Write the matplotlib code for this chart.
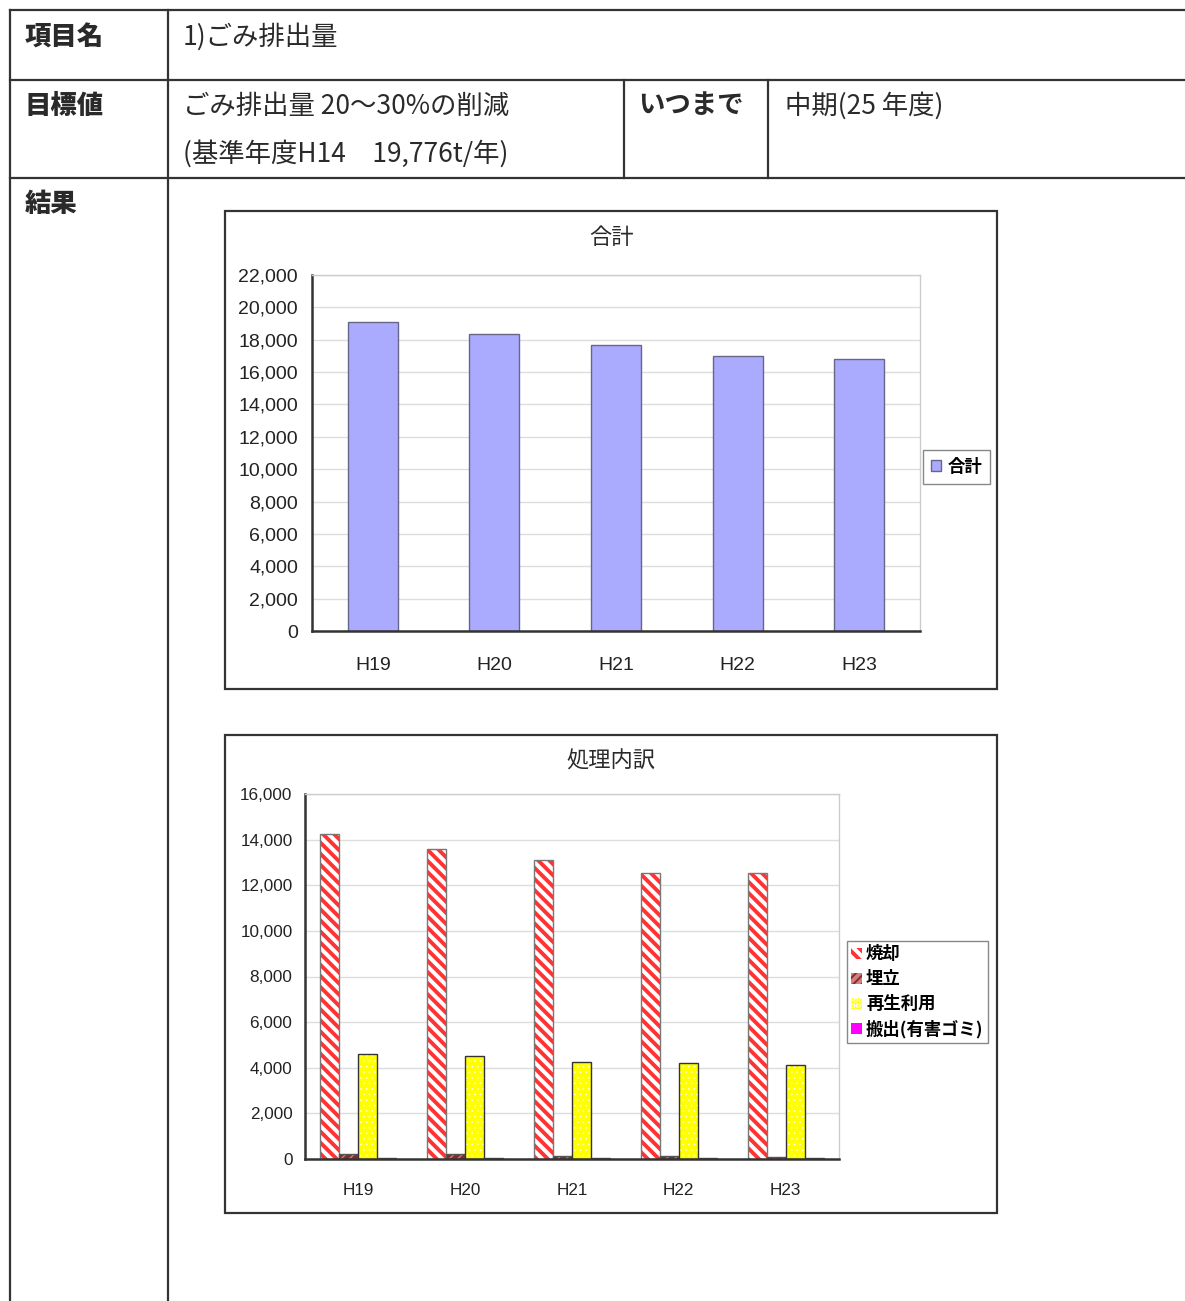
import matplotlib
matplotlib.use("Agg")
import matplotlib.pyplot as plt
from matplotlib.patches import Rectangle
from matplotlib.lines import Line2D
import numpy as np

plt.rcParams['font.family'] = ['Noto Sans CJK JP', 'DejaVu Sans']
plt.rcParams['hatch.linewidth'] = 2.8

# ---------------- data ----------------
years = ["H19", "H20", "H21", "H22", "H23"]
total = [19110, 18370, 17650, 16990, 16830]

series_names = ["焼却", "埋立", "再生利用", "搬出(有害ゴミ)"]
incinerate = [14250, 13580, 13120, 12520, 12520]
landfill = [220, 210, 150, 150, 90]
recycle = [4590, 4500, 4240, 4200, 4130]
hazardous = [40, 40, 40, 40, 40]

yticks1 = [0, 2000, 4000, 6000, 8000, 10000, 12000, 14000, 16000, 18000, 20000, 22000]
yticks2 = [0, 2000, 4000, 6000, 8000, 10000, 12000, 14000, 16000]

W, H = 1185, 1301
fig = plt.figure(figsize=(W / 100, H / 100), dpi=100)

# overlay axes in pixel coordinates for the table
ov = fig.add_axes([0, 0, 1, 1], zorder=0)
ov.set_xlim(0, W)
ov.set_ylim(H, 0)
ov.axis('off')

lc = '#333333'
lw = 1.6
def hline(y, x0, x1):
    ov.add_line(Line2D([x0, x1], [y, y], color=lc, lw=lw))
def vline(x, y0, y1):
    ov.add_line(Line2D([x, x], [y0, y1], color=lc, lw=lw))

hline(10, 10, W)
hline(80, 10, W)
hline(178, 10, W)
vline(10, 10, H)
vline(168, 10, H)
vline(624, 80, 178)
vline(768, 80, 178)

fs_head = 19
tc = '#2a2a2a'
ov.text(25, 37, "項目名", fontsize=fs_head, fontweight='heavy', va='center', ha='left', color=tc)
ov.text(183, 37, "1)ごみ排出量", fontsize=fs_head, va='center', ha='left', color=tc)
ov.text(25, 106, "目標値", fontsize=fs_head, fontweight='heavy', va='center', ha='left', color=tc)
ov.text(183, 106, "ごみ排出量 20〜30%の削減", fontsize=fs_head, va='center', ha='left', color=tc)
ov.text(183, 154, "(基準年度H14　19,776t/年)", fontsize=fs_head, va='center', ha='left', color=tc)
ov.text(638, 106, "いつまで", fontsize=fs_head, fontweight='bold', va='center', ha='left', color=tc)
ov.text(785, 106, "中期(25 年度)", fontsize=fs_head, va='center', ha='left', color=tc)
ov.text(25, 204, "結果", fontsize=fs_head, fontweight='heavy', va='center', ha='left', color=tc)

# chart frames
ov.add_patch(Rectangle((225, 211), 772, 478, fill=False, ec=lc, lw=1.6))
ov.add_patch(Rectangle((225, 735), 772, 478, fill=False, ec=lc, lw=1.6))
ov.text(611, 238, "合計", fontsize=16, va='center', ha='center', color=tc)
ov.text(611, 761, "処理内訳", fontsize=16, va='center', ha='center', color=tc)

tick_font = ['Liberation Sans', 'DejaVu Sans']

def style_axes(ax):
    for s in ['top', 'right']:
        ax.spines[s].set_color('#cccccc')
        ax.spines[s].set_linewidth(1.0)
    for s in ['left', 'bottom']:
        ax.spines[s].set_color('#333333')
        ax.spines[s].set_linewidth(1.8)
    ax.yaxis.grid(True, color='#dddddd', lw=1.0)
    ax.set_axisbelow(True)
    ax.tick_params(length=0, colors='#222')

# ---------------- chart 1 ----------------
ax1 = fig.add_axes([312 / W, 1 - 631 / H, 608 / W, 356 / H], zorder=1)
x = np.arange(len(years))
b1 = ax1.bar(x, total, width=0.41, color='#aaaaff', edgecolor='#666688', lw=1.0, label="合計")
ax1.set_xlim(-0.5, len(years) - 0.5)
ax1.set_ylim(0, 22000)
ax1.set_yticks(yticks1)
ax1.set_yticklabels([f"{v:,}" for v in yticks1], fontsize=14, family=tick_font)
ax1.set_xticks(x)
ax1.set_xticklabels(years, fontsize=14, family=tick_font)
style_axes(ax1)
ax1.tick_params(axis='y', pad=10)
ax1.tick_params(axis='x', pad=19)
leg1 = fig.legend(handles=[b1], labels=["合計"], loc='upper left',
                  bbox_to_anchor=(923 / W, 1 - 450 / H), borderaxespad=0, fancybox=False,
                  edgecolor='#888888', framealpha=1, handlelength=0.6, handleheight=0.6,
                  handletextpad=0.35, borderpad=0.45, prop={'weight': 'bold', 'size': 12.5})
leg1.get_frame().set_linewidth(1.0)

# ---------------- chart 2 ----------------
ax2 = fig.add_axes([305 / W, 1 - 1159 / H, 534 / W, 365 / H], zorder=1)
w = 0.178
offs = np.array([-1.5, -0.5, 0.5, 1.5]) * w
vals = [incinerate, landfill, recycle, hazardous]
faces = ['white', '#8b2a2a', '#ffff00', '#ff00ff']
hcols = ['#ff3333', '#d08080', 'white', '#ff00ff']
hatches = ['\\\\\\', '////', '...', None]
hlws = [2.8, 1.0, 0.4, 1.0]
outl = ['#777777', '#555555', '#333333', '#555555']
handles = []
for i in range(4):
    with plt.rc_context({'hatch.linewidth': hlws[i]}):
        h = ax2.bar(x + offs[i], vals[i], width=w, color=faces[i], edgecolor=hcols[i],
                    hatch=hatches[i], lw=0, label=series_names[i])
    for p in h.patches:
        if hasattr(p, 'set_hatch_linewidth'):
            p.set_hatch_linewidth(hlws[i])
    ax2.bar(x + offs[i], vals[i], width=w, fill=False, edgecolor=outl[i], lw=1.0)
    handles.append(h)
ax2.set_xlim(-0.5, len(years) - 0.5)
ax2.set_ylim(0, 16000)
ax2.set_yticks(yticks2)
ax2.set_yticklabels([f"{v:,}" for v in yticks2], fontsize=12.3, family=tick_font)
ax2.set_xticks(x)
ax2.set_xticklabels(years, fontsize=12.3, family=tick_font)
style_axes(ax2)
ax2.tick_params(axis='y', pad=9)
ax2.tick_params(axis='x', pad=17)
leg2 = fig.legend(handles=handles, labels=series_names, loc='upper left',
                  bbox_to_anchor=(847 / W, 1 - 941 / H), borderaxespad=0, fancybox=False,
                  edgecolor='#888888', framealpha=1, handlelength=0.6, handleheight=0.6,
                  handletextpad=0.25, borderpad=0.25, labelspacing=0.4,
                  prop={'weight': 'bold', 'size': 12.5})
leg2.get_frame().set_linewidth(1.0)

fig.savefig("out.png", dpi=100)
